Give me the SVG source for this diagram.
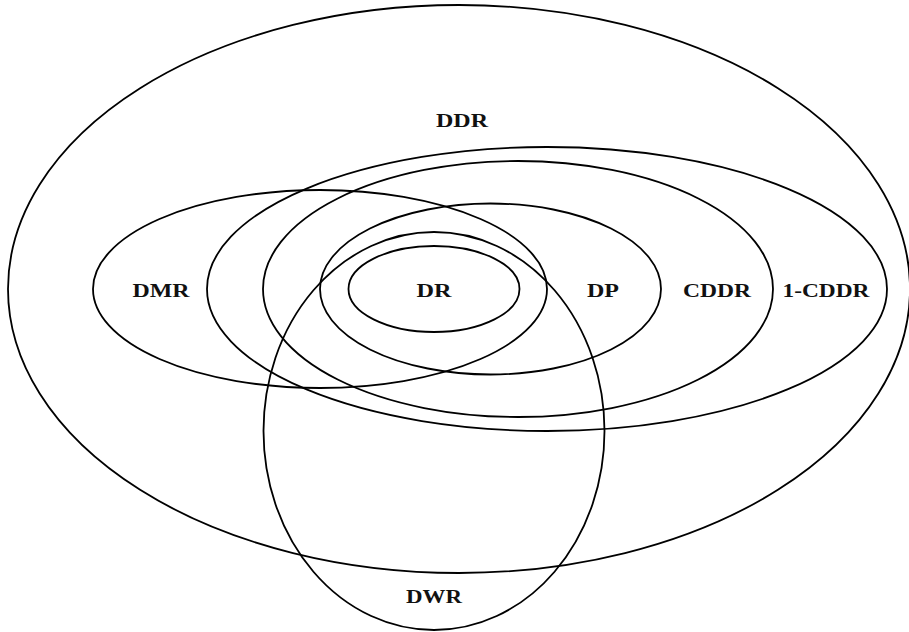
<svg xmlns="http://www.w3.org/2000/svg" width="909" height="632" viewBox="0 0 909 632">
<style>
.e{fill:none;stroke:#000;stroke-width:1.8}
.t{font-family:"Liberation Serif","DejaVu Serif",serif;font-weight:bold;font-size:19px;fill:#111;text-anchor:middle}
</style>
<rect width="909" height="632" fill="#fff"/>
<g id="DDR"><ellipse class="e" cx="459" cy="289" rx="451" ry="284"/><text class="t" x="462" y="127" textLength="52" lengthAdjust="spacingAndGlyphs">DDR</text></g>
<g id="CDDR1"><ellipse class="e" cx="547" cy="289" rx="340" ry="142"/><text class="t" x="826" y="297" textLength="87" lengthAdjust="spacingAndGlyphs">1-CDDR</text></g>
<g id="CDDR"><ellipse class="e" cx="518" cy="289" rx="255" ry="128"/><text class="t" x="717" y="297" textLength="68" lengthAdjust="spacingAndGlyphs">CDDR</text></g>
<g id="DMR"><ellipse class="e" cx="320" cy="289" rx="227" ry="99"/><text class="t" x="161" y="297" textLength="57" lengthAdjust="spacingAndGlyphs">DMR</text></g>
<g id="DP"><ellipse class="e" cx="490.5" cy="289" rx="170.5" ry="85.5"/><text class="t" x="603" y="297" textLength="32" lengthAdjust="spacingAndGlyphs">DP</text></g>
<g id="DR"><ellipse class="e" cx="434" cy="289" rx="85.5" ry="43"/><text class="t" x="434" y="297" textLength="35" lengthAdjust="spacingAndGlyphs">DR</text></g>
<g id="DWR"><ellipse class="e" cx="434" cy="431" rx="170.5" ry="199"/><text class="t" x="434" y="603" textLength="56" lengthAdjust="spacingAndGlyphs">DWR</text></g>
<g id="connectors"/>
</svg>
